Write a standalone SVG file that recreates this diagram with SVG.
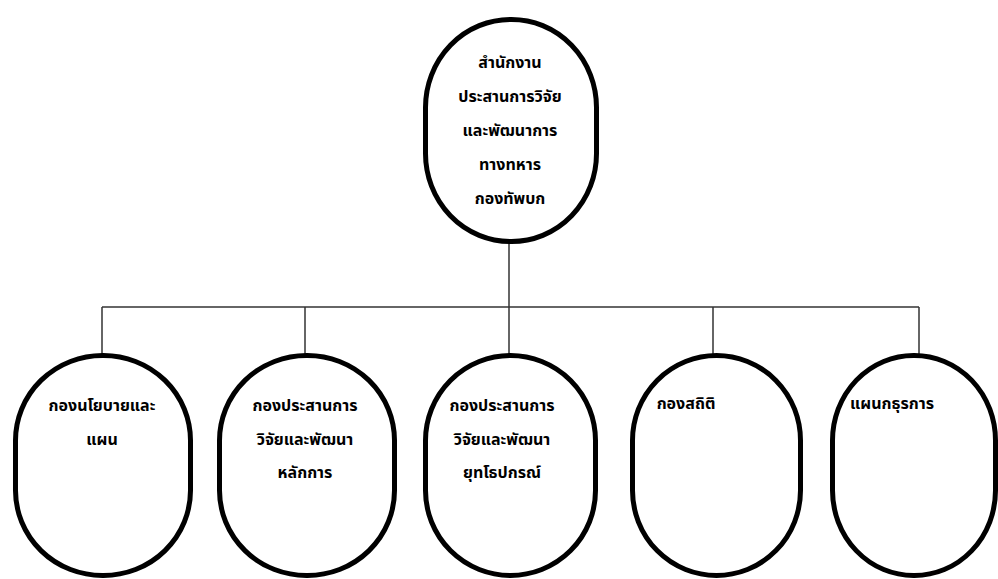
<svg xmlns="http://www.w3.org/2000/svg" width="998" height="579" viewBox="0 0 998 579">
<style>
.node{fill:#fff;stroke:#000;stroke-width:5}
.conn{stroke:#333;stroke-width:1.5;fill:none}
.t{font-family:"Noto Sans Thai","Noto Sans","DejaVu Sans",sans-serif;font-size:16px;font-weight:bold;fill:#000;text-anchor:middle;dominant-baseline:central}
</style>
<rect width="998" height="579" fill="#fff"/>
<g id="connectors">
<line class="conn" x1="509" y1="243" x2="509" y2="355"/>
<line class="conn" x1="102" y1="307" x2="919" y2="307"/>
<line class="conn" x1="102" y1="307" x2="102" y2="354"/>
<line class="conn" x1="305" y1="307" x2="305" y2="354"/>
<line class="conn" x1="713" y1="307" x2="713" y2="354"/>
<line class="conn" x1="919" y1="307" x2="919" y2="354"/>
</g>
<g id="top">
<rect class="node" x="425.5" y="19.5" width="171" height="222" rx="85" ry="88"/>
<text class="t" x="510" y="63">สำนักงาน</text>
<text class="t" x="510" y="97">ประสานการวิจัย</text>
<text class="t" x="510" y="131">และพัฒนาการ</text>
<text class="t" x="510" y="165">ทางทหาร</text>
<text class="t" x="510" y="199">กองทัพบก</text>
</g>
<g id="n1">
<rect class="node" x="15.5" y="355.5" width="175" height="220" rx="87" ry="85"/>
<text class="t" x="102" y="406">กองนโยบายและ</text>
<text class="t" x="102" y="440">แผน</text>
</g>
<g id="n2">
<rect class="node" x="219.5" y="355.5" width="175" height="220" rx="87" ry="85"/>
<text class="t" x="305" y="406">กองประสานการ</text>
<text class="t" x="305" y="440">วิจัยและพัฒนา</text>
<text class="t" x="305" y="473">หลักการ</text>
</g>
<g id="n3">
<rect class="node" x="425.5" y="355.5" width="170" height="220" rx="85" ry="85"/>
<text class="t" x="502" y="406">กองประสานการ</text>
<text class="t" x="502" y="440">วิจัยและพัฒนา</text>
<text class="t" x="502" y="473">ยุทโธปกรณ์</text>
</g>
<g id="n4">
<rect class="node" x="632.5" y="355.5" width="168" height="220" rx="84" ry="85"/>
<text class="t" x="686" y="404">กองสถิติ</text>
</g>
<g id="n5">
<rect class="node" x="832.5" y="355.5" width="163" height="220" rx="81" ry="85"/>
<text class="t" x="892" y="404">แผนกธุรการ</text>
</g>
</svg>
